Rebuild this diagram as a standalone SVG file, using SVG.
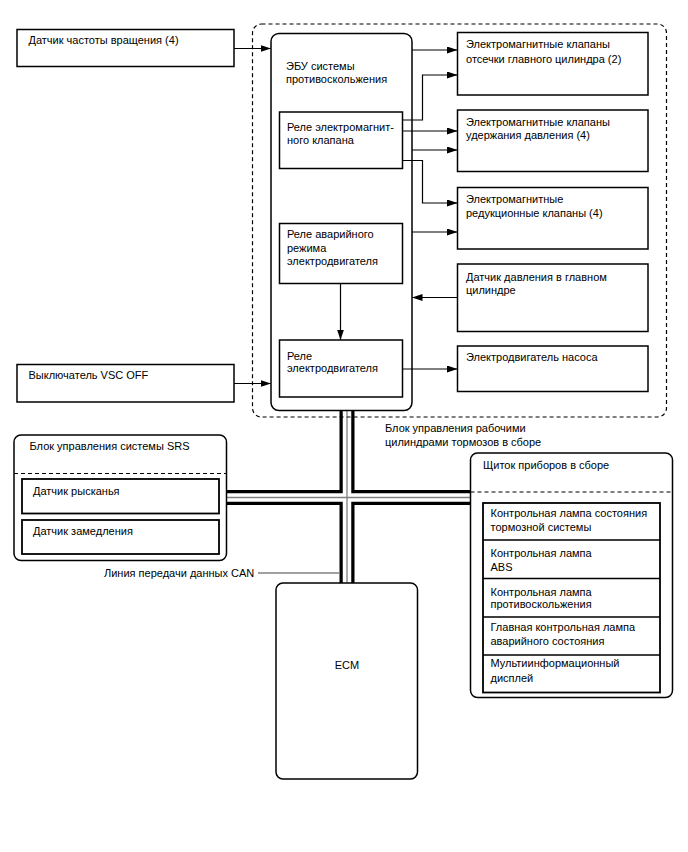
<svg xmlns="http://www.w3.org/2000/svg" width="688" height="852" viewBox="0 0 688 852">
<style>
text{font-family:"Liberation Sans",Arial,sans-serif;font-size:11px;fill:#000}
.b{fill:#fff;stroke:#000;stroke-width:1.5}
.d{fill:none;stroke:#000;stroke-width:1.2;stroke-dasharray:4,3}
.c{fill:none;stroke:#000;stroke-width:1.2}
.bk{fill:none;stroke:#000;stroke-width:15}
.wh{fill:none;stroke:#fff;stroke-width:8.5}
.gr{fill:none;stroke:#808080;stroke-width:1.3}
</style>
<defs>
<marker id="ah" markerUnits="userSpaceOnUse" markerWidth="11" markerHeight="8" refX="10.5" refY="3.5" orient="auto">
<path d="M0,0 L10.5,3.5 L0,7 z" fill="#000"/>
</marker>
</defs>
<rect width="688" height="852" fill="#fff"/>

<g id="bus">
<path class="bk" d="M347,410 V583 M226,497.5 H470"/>
<path class="wh" d="M347,410 V583 M226,497.5 H470"/>
<path class="gr" d="M347,410 V583 M226,497.5 H470"/>
</g>

<g id="brake-unit">
<rect class="d" x="252.5" y="24" width="414" height="393" rx="9"/>
<text x="385" y="432">Блок управления рабочими</text>
<text x="385" y="446">цилиндрами тормозов в сборе</text>
</g>

<g id="ecu">
<rect class="b" x="271" y="33.5" width="141" height="377" rx="8"/>
<text x="286" y="70">ЭБУ системы</text>
<text x="286" y="82.5">противоскольжения</text>
</g>

<g id="relay-valve">
<rect class="b" x="279.5" y="112" width="123" height="56.5"/>
<text x="287" y="130.5">Реле электромагнит-</text>
<text x="287" y="144">ного клапана</text>
</g>

<g id="relay-fail">
<rect class="b" x="279.5" y="223.5" width="123" height="60"/>
<text x="287" y="238">Реле аварийного</text>
<text x="287" y="251.5">режима</text>
<text x="287" y="264.5">электродвигателя</text>
</g>

<g id="relay-motor">
<rect class="b" x="279.5" y="340" width="123" height="57"/>
<text x="287" y="359.5">Реле</text>
<text x="287" y="372">электродвигателя</text>
</g>

<g id="speed-sensor">
<rect class="b" x="17" y="29.5" width="217" height="37"/>
<text x="28.5" y="44">Датчик частоты вращения (4)</text>
</g>

<g id="vsc-off">
<rect class="b" x="17" y="364.5" width="217" height="37.5"/>
<text x="28.5" y="379">Выключатель VSC OFF</text>
</g>

<g id="valves-cut">
<rect class="b" x="457.5" y="32.5" width="190.5" height="62.5"/>
<text x="466" y="48">Электромагнитные клапаны</text>
<text x="466" y="62.5">отсечки главного цилиндра (2)</text>
</g>

<g id="valves-hold">
<rect class="b" x="457.5" y="110" width="190.5" height="61.5"/>
<text x="466" y="125.5">Электромагнитные клапаны</text>
<text x="466" y="139">удержания давления (4)</text>
</g>

<g id="valves-reduce">
<rect class="b" x="457.5" y="187.5" width="190.5" height="61.5"/>
<text x="466" y="203">Электромагнитные</text>
<text x="466" y="216.5">редукционные клапаны (4)</text>
</g>

<g id="pressure-sensor">
<rect class="b" x="457.5" y="264" width="190.5" height="67.5"/>
<text x="466" y="280.5">Датчик давления в главном</text>
<text x="466" y="294">цилиндре</text>
</g>

<g id="pump-motor">
<rect class="b" x="457.5" y="346" width="190.5" height="45.5"/>
<text x="466" y="360.5">Электродвигатель насоса</text>
</g>

<g id="srs">
<rect class="b" x="14" y="435" width="212.5" height="125.5" rx="7"/>
<text x="29.5" y="449.5">Блок управления системы SRS</text>
<line class="d" x1="14" y1="473.5" x2="226.5" y2="473.5"/>
<rect class="b" x="22" y="479" width="197" height="34.5" style="stroke-width:1.8"/>
<text x="33" y="494.5">Датчик рысканья</text>
<rect class="b" x="22" y="520" width="197" height="34" style="stroke-width:1.8"/>
<text x="33" y="535">Датчик замедления</text>
</g>

<g id="cluster">
<rect class="b" x="470.5" y="453" width="202" height="244.5" rx="7"/>
<text x="483" y="469">Щиток приборов в сборе</text>
<line class="d" x1="470.5" y1="492" x2="672.5" y2="492"/>
<rect class="b" x="483" y="503" width="177" height="189.5" style="stroke-width:1.8"/>
<path class="c" d="M483,540 H660 M483,578.5 H660 M483,617 H660 M483,655 H660" style="stroke-width:1.5"/>
<text x="490.5" y="517">Контрольная лампа состояния</text>
<text x="490.5" y="531">тормозной системы</text>
<text x="490.5" y="557">Контрольная лампа</text>
<text x="490.5" y="570.5">ABS</text>
<text x="490.5" y="595.5">Контрольная лампа</text>
<text x="490.5" y="608">противоскольжения</text>
<text x="490.5" y="630.5">Главная контрольная лампа</text>
<text x="490.5" y="644.5">аварийного состояния</text>
<text x="490.5" y="667">Мультиинформационный</text>
<text x="490.5" y="682">дисплей</text>
</g>

<g id="ecm">
<rect class="b" x="276" y="583" width="141.5" height="196" rx="7"/>
<text x="347" y="669" text-anchor="middle">ECM</text>
</g>

<g id="can-label">
<text x="104" y="577">Линия передачи данных CAN</text>
<line x1="258" y1="573" x2="340" y2="573" stroke="#808080" stroke-width="1.3"/>
</g>

<g id="connectors">
<path class="c" d="M234,48.5 H271" marker-end="url(#ah)"/>
<path class="c" d="M234,383.5 H271" marker-end="url(#ah)"/>
<path class="c" d="M412,50 H457.5" marker-end="url(#ah)"/>
<path class="c" d="M402.5,120 H422.5 V75 H457.5" marker-end="url(#ah)"/>
<path class="c" d="M402.5,131 H457.5" marker-end="url(#ah)"/>
<path class="c" d="M412,150 H457.5" marker-end="url(#ah)"/>
<path class="c" d="M402.5,160.5 H422.5 V203 H457.5" marker-end="url(#ah)"/>
<path class="c" d="M412,232 H457.5" marker-end="url(#ah)"/>
<path class="c" d="M457.5,297.5 H412" marker-end="url(#ah)"/>
<path class="c" d="M340.5,283.5 V340" marker-end="url(#ah)"/>
<path class="c" d="M402.5,369 H457.5" marker-end="url(#ah)"/>
</g>
</svg>
